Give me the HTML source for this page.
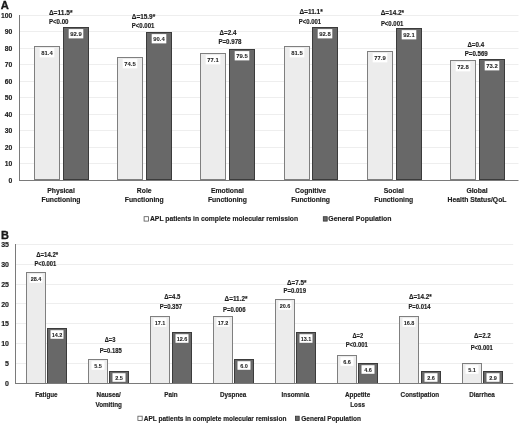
<!DOCTYPE html>
<html><head><meta charset="utf-8"><style>
html,body{margin:0;padding:0;background:#fff;}
body{width:520px;height:423px;overflow:hidden;}
svg{display:block;font-family:"Liberation Sans", sans-serif;filter:grayscale(1) blur(0.3px);}
</style></head><body>
<svg width="520" height="423" viewBox="0 0 520 423">
<rect width="520" height="423" fill="#fff"/>
<line x1="19.5" y1="163.5" x2="518.5" y2="163.5" stroke="#eeeeee" stroke-width="1"/>
<line x1="19.5" y1="147.5" x2="518.5" y2="147.5" stroke="#eeeeee" stroke-width="1"/>
<line x1="19.5" y1="130.5" x2="518.5" y2="130.5" stroke="#eeeeee" stroke-width="1"/>
<line x1="19.5" y1="114.5" x2="518.5" y2="114.5" stroke="#eeeeee" stroke-width="1"/>
<line x1="19.5" y1="97.5" x2="518.5" y2="97.5" stroke="#eeeeee" stroke-width="1"/>
<line x1="19.5" y1="81.5" x2="518.5" y2="81.5" stroke="#eeeeee" stroke-width="1"/>
<line x1="19.5" y1="64.5" x2="518.5" y2="64.5" stroke="#eeeeee" stroke-width="1"/>
<line x1="19.5" y1="48.5" x2="518.5" y2="48.5" stroke="#eeeeee" stroke-width="1"/>
<line x1="19.5" y1="31.5" x2="518.5" y2="31.5" stroke="#eeeeee" stroke-width="1"/>
<line x1="19.5" y1="15.5" x2="518.5" y2="15.5" stroke="#eeeeee" stroke-width="1"/>
<text x="12.40" y="182.85" font-size="6.8" text-anchor="end" font-weight="bold" fill="#1c1c1c" stroke="#1c1c1c" stroke-width="0.15">0</text>
<text x="12.40" y="166.35" font-size="6.8" text-anchor="end" font-weight="bold" fill="#1c1c1c" stroke="#1c1c1c" stroke-width="0.15">10</text>
<text x="12.40" y="149.85" font-size="6.8" text-anchor="end" font-weight="bold" fill="#1c1c1c" stroke="#1c1c1c" stroke-width="0.15">20</text>
<text x="12.40" y="133.35" font-size="6.8" text-anchor="end" font-weight="bold" fill="#1c1c1c" stroke="#1c1c1c" stroke-width="0.15">30</text>
<text x="12.40" y="116.85" font-size="6.8" text-anchor="end" font-weight="bold" fill="#1c1c1c" stroke="#1c1c1c" stroke-width="0.15">40</text>
<text x="12.40" y="100.35" font-size="6.8" text-anchor="end" font-weight="bold" fill="#1c1c1c" stroke="#1c1c1c" stroke-width="0.15">50</text>
<text x="12.40" y="83.85" font-size="6.8" text-anchor="end" font-weight="bold" fill="#1c1c1c" stroke="#1c1c1c" stroke-width="0.15">60</text>
<text x="12.40" y="67.35" font-size="6.8" text-anchor="end" font-weight="bold" fill="#1c1c1c" stroke="#1c1c1c" stroke-width="0.15">70</text>
<text x="12.40" y="50.85" font-size="6.8" text-anchor="end" font-weight="bold" fill="#1c1c1c" stroke="#1c1c1c" stroke-width="0.15">80</text>
<text x="12.40" y="34.35" font-size="6.8" text-anchor="end" font-weight="bold" fill="#1c1c1c" stroke="#1c1c1c" stroke-width="0.15">90</text>
<text x="12.40" y="17.85" font-size="6.8" text-anchor="end" font-weight="bold" fill="#1c1c1c" stroke="#1c1c1c" stroke-width="0.15">100</text>
<rect x="34.50" y="46.50" width="25.00" height="133.00" fill="#ececec" stroke="#7f7f7f" stroke-width="1"/>
<rect x="63.50" y="27.50" width="25.00" height="152.00" fill="#686868" stroke="#3b3b3b" stroke-width="1"/>
<rect x="39.70" y="48.10" width="14.6" height="9.3" fill="#ffffff"/>
<text x="47.00" y="54.80" font-size="5.9" text-anchor="middle" font-weight="bold" fill="#1c1c1c" stroke="#1c1c1c" stroke-width="0.05">81.4</text>
<rect x="68.70" y="29.10" width="14.6" height="9.3" fill="#ffffff"/>
<text x="76.00" y="35.80" font-size="5.9" text-anchor="middle" font-weight="bold" fill="#1c1c1c" stroke="#1c1c1c" stroke-width="0.05">92.9</text>
<text x="61.00" y="192.80" font-size="6.8" text-anchor="middle" font-weight="bold" fill="#1c1c1c" stroke="#1c1c1c" stroke-width="0.15">Physical</text>
<text x="61.00" y="201.70" font-size="6.8" text-anchor="middle" font-weight="bold" fill="#1c1c1c" stroke="#1c1c1c" stroke-width="0.15">Functioning</text>
<text x="48.90" y="14.80" font-size="6.4" text-anchor="start" font-weight="bold" fill="#1c1c1c" textLength="23.60" lengthAdjust="spacingAndGlyphs" stroke="#1c1c1c" stroke-width="0.15">Δ=11.5*</text>
<text x="48.90" y="23.60" font-size="6.4" text-anchor="start" font-weight="bold" fill="#1c1c1c" textLength="19.60" lengthAdjust="spacingAndGlyphs" stroke="#1c1c1c" stroke-width="0.15">P&lt;0.00</text>
<rect x="117.50" y="57.50" width="25.00" height="122.00" fill="#ececec" stroke="#7f7f7f" stroke-width="1"/>
<rect x="146.50" y="32.50" width="25.00" height="147.00" fill="#686868" stroke="#3b3b3b" stroke-width="1"/>
<rect x="122.70" y="59.10" width="14.6" height="9.3" fill="#ffffff"/>
<text x="130.00" y="65.80" font-size="5.9" text-anchor="middle" font-weight="bold" fill="#1c1c1c" stroke="#1c1c1c" stroke-width="0.05">74.5</text>
<rect x="151.70" y="34.10" width="14.6" height="9.3" fill="#ffffff"/>
<text x="159.00" y="40.80" font-size="5.9" text-anchor="middle" font-weight="bold" fill="#1c1c1c" stroke="#1c1c1c" stroke-width="0.05">90.4</text>
<text x="144.20" y="192.80" font-size="6.8" text-anchor="middle" font-weight="bold" fill="#1c1c1c" stroke="#1c1c1c" stroke-width="0.15">Role</text>
<text x="144.20" y="201.70" font-size="6.8" text-anchor="middle" font-weight="bold" fill="#1c1c1c" stroke="#1c1c1c" stroke-width="0.15">Functioning</text>
<text x="131.80" y="18.80" font-size="6.4" text-anchor="start" font-weight="bold" fill="#1c1c1c" textLength="23.40" lengthAdjust="spacingAndGlyphs" stroke="#1c1c1c" stroke-width="0.15">Δ=15.9*</text>
<text x="131.80" y="27.60" font-size="6.4" text-anchor="start" font-weight="bold" fill="#1c1c1c" textLength="22.60" lengthAdjust="spacingAndGlyphs" stroke="#1c1c1c" stroke-width="0.15">P&lt;0.001</text>
<rect x="200.50" y="53.50" width="25.00" height="126.00" fill="#ececec" stroke="#7f7f7f" stroke-width="1"/>
<rect x="229.50" y="49.50" width="25.00" height="130.00" fill="#686868" stroke="#3b3b3b" stroke-width="1"/>
<rect x="205.70" y="55.10" width="14.6" height="9.3" fill="#ffffff"/>
<text x="213.00" y="61.80" font-size="5.9" text-anchor="middle" font-weight="bold" fill="#1c1c1c" stroke="#1c1c1c" stroke-width="0.05">77.1</text>
<rect x="234.70" y="51.10" width="14.6" height="9.3" fill="#ffffff"/>
<text x="242.00" y="57.80" font-size="5.9" text-anchor="middle" font-weight="bold" fill="#1c1c1c" stroke="#1c1c1c" stroke-width="0.05">79.5</text>
<text x="227.40" y="192.80" font-size="6.8" text-anchor="middle" font-weight="bold" fill="#1c1c1c" stroke="#1c1c1c" stroke-width="0.15">Emotional</text>
<text x="227.40" y="201.70" font-size="6.8" text-anchor="middle" font-weight="bold" fill="#1c1c1c" stroke="#1c1c1c" stroke-width="0.15">Functioning</text>
<text x="219.60" y="35.40" font-size="6.4" text-anchor="start" font-weight="bold" fill="#1c1c1c" textLength="16.80" lengthAdjust="spacingAndGlyphs" stroke="#1c1c1c" stroke-width="0.15">Δ=2.4</text>
<text x="218.40" y="44.30" font-size="6.4" text-anchor="start" font-weight="bold" fill="#1c1c1c" textLength="23.10" lengthAdjust="spacingAndGlyphs" stroke="#1c1c1c" stroke-width="0.15">P=0.978</text>
<rect x="284.50" y="46.50" width="25.00" height="133.00" fill="#ececec" stroke="#7f7f7f" stroke-width="1"/>
<rect x="312.50" y="27.50" width="25.00" height="152.00" fill="#686868" stroke="#3b3b3b" stroke-width="1"/>
<rect x="289.70" y="48.10" width="14.6" height="9.3" fill="#ffffff"/>
<text x="297.00" y="54.80" font-size="5.9" text-anchor="middle" font-weight="bold" fill="#1c1c1c" stroke="#1c1c1c" stroke-width="0.05">81.5</text>
<rect x="317.70" y="29.10" width="14.6" height="9.3" fill="#ffffff"/>
<text x="325.00" y="35.80" font-size="5.9" text-anchor="middle" font-weight="bold" fill="#1c1c1c" stroke="#1c1c1c" stroke-width="0.05">92.8</text>
<text x="310.60" y="192.80" font-size="6.8" text-anchor="middle" font-weight="bold" fill="#1c1c1c" stroke="#1c1c1c" stroke-width="0.15">Cognitive</text>
<text x="310.60" y="201.70" font-size="6.8" text-anchor="middle" font-weight="bold" fill="#1c1c1c" stroke="#1c1c1c" stroke-width="0.15">Functioning</text>
<text x="299.40" y="14.40" font-size="6.4" text-anchor="start" font-weight="bold" fill="#1c1c1c" textLength="23.40" lengthAdjust="spacingAndGlyphs" stroke="#1c1c1c" stroke-width="0.15">Δ=11.1*</text>
<text x="298.80" y="23.50" font-size="6.4" text-anchor="start" font-weight="bold" fill="#1c1c1c" textLength="22.30" lengthAdjust="spacingAndGlyphs" stroke="#1c1c1c" stroke-width="0.15">P&lt;0.001</text>
<rect x="367.50" y="51.50" width="25.00" height="128.00" fill="#ececec" stroke="#7f7f7f" stroke-width="1"/>
<rect x="396.50" y="28.50" width="25.00" height="151.00" fill="#686868" stroke="#3b3b3b" stroke-width="1"/>
<rect x="372.70" y="53.10" width="14.6" height="9.3" fill="#ffffff"/>
<text x="380.00" y="59.80" font-size="5.9" text-anchor="middle" font-weight="bold" fill="#1c1c1c" stroke="#1c1c1c" stroke-width="0.05">77.9</text>
<rect x="401.70" y="30.10" width="14.6" height="9.3" fill="#ffffff"/>
<text x="409.00" y="36.80" font-size="5.9" text-anchor="middle" font-weight="bold" fill="#1c1c1c" stroke="#1c1c1c" stroke-width="0.05">92.1</text>
<text x="393.80" y="192.80" font-size="6.8" text-anchor="middle" font-weight="bold" fill="#1c1c1c" stroke="#1c1c1c" stroke-width="0.15">Social</text>
<text x="393.80" y="201.70" font-size="6.8" text-anchor="middle" font-weight="bold" fill="#1c1c1c" stroke="#1c1c1c" stroke-width="0.15">Functioning</text>
<text x="380.70" y="14.80" font-size="6.4" text-anchor="start" font-weight="bold" fill="#1c1c1c" textLength="23.40" lengthAdjust="spacingAndGlyphs" stroke="#1c1c1c" stroke-width="0.15">Δ=14.2*</text>
<text x="380.90" y="26.40" font-size="6.4" text-anchor="start" font-weight="bold" fill="#1c1c1c" textLength="22.40" lengthAdjust="spacingAndGlyphs" stroke="#1c1c1c" stroke-width="0.15">P&lt;0.001</text>
<rect x="450.50" y="60.50" width="25.00" height="119.00" fill="#ececec" stroke="#7f7f7f" stroke-width="1"/>
<rect x="479.50" y="59.50" width="25.00" height="120.00" fill="#686868" stroke="#3b3b3b" stroke-width="1"/>
<rect x="455.70" y="62.10" width="14.6" height="9.3" fill="#ffffff"/>
<text x="463.00" y="68.80" font-size="5.9" text-anchor="middle" font-weight="bold" fill="#1c1c1c" stroke="#1c1c1c" stroke-width="0.05">72.8</text>
<rect x="484.70" y="61.10" width="14.6" height="9.3" fill="#ffffff"/>
<text x="492.00" y="67.80" font-size="5.9" text-anchor="middle" font-weight="bold" fill="#1c1c1c" stroke="#1c1c1c" stroke-width="0.05">73.2</text>
<text x="477.00" y="192.80" font-size="6.8" text-anchor="middle" font-weight="bold" fill="#1c1c1c" stroke="#1c1c1c" stroke-width="0.15">Global</text>
<text x="477.00" y="201.70" font-size="6.8" text-anchor="middle" font-weight="bold" fill="#1c1c1c" stroke="#1c1c1c" stroke-width="0.15">Health Status/QoL</text>
<text x="467.40" y="47.40" font-size="6.4" text-anchor="start" font-weight="bold" fill="#1c1c1c" textLength="16.70" lengthAdjust="spacingAndGlyphs" stroke="#1c1c1c" stroke-width="0.15">Δ=0.4</text>
<text x="464.70" y="55.60" font-size="6.4" text-anchor="start" font-weight="bold" fill="#1c1c1c" textLength="23.10" lengthAdjust="spacingAndGlyphs" stroke="#1c1c1c" stroke-width="0.15">P=0.569</text>
<line x1="19.5" y1="15" x2="19.5" y2="180.5" stroke="#7a7a7a" stroke-width="1"/>
<line x1="19" y1="180.5" x2="518.5" y2="180.5" stroke="#7a7a7a" stroke-width="1"/>
<text x="0.70" y="9.10" font-size="11.2" text-anchor="start" font-weight="bold" fill="#1c1c1c" stroke="#000" stroke-width="0.3">A</text>
<rect x="144.10" y="216.70" width="4.40" height="4.40" fill="#ffffff" stroke="#555555" stroke-width="0.8"/>
<text x="150.00" y="221.30" font-size="6.75" text-anchor="start" font-weight="bold" fill="#1c1c1c" stroke="#1c1c1c" stroke-width="0.15">APL patients in complete molecular remission</text>
<rect x="323.30" y="216.70" width="3.90" height="4.40" fill="#686868" stroke="#333333" stroke-width="0.8"/>
<text x="328.30" y="221.30" font-size="6.9" text-anchor="start" font-weight="bold" fill="#1c1c1c" stroke="#1c1c1c" stroke-width="0.15">General Population</text>
<line x1="15.5" y1="363.5" x2="513.2" y2="363.5" stroke="#eeeeee" stroke-width="1"/>
<line x1="15.5" y1="343.5" x2="513.2" y2="343.5" stroke="#eeeeee" stroke-width="1"/>
<line x1="15.5" y1="323.5" x2="513.2" y2="323.5" stroke="#eeeeee" stroke-width="1"/>
<line x1="15.5" y1="303.5" x2="513.2" y2="303.5" stroke="#eeeeee" stroke-width="1"/>
<line x1="15.5" y1="284.5" x2="513.2" y2="284.5" stroke="#eeeeee" stroke-width="1"/>
<line x1="15.5" y1="264.5" x2="513.2" y2="264.5" stroke="#eeeeee" stroke-width="1"/>
<line x1="15.5" y1="244.5" x2="513.2" y2="244.5" stroke="#eeeeee" stroke-width="1"/>
<text x="9.00" y="386.00" font-size="7.0" text-anchor="end" font-weight="bold" fill="#1c1c1c" stroke="#1c1c1c" stroke-width="0.15">0</text>
<text x="9.00" y="366.15" font-size="7.0" text-anchor="end" font-weight="bold" fill="#1c1c1c" stroke="#1c1c1c" stroke-width="0.15">5</text>
<text x="9.00" y="346.30" font-size="7.0" text-anchor="end" font-weight="bold" fill="#1c1c1c" stroke="#1c1c1c" stroke-width="0.15">10</text>
<text x="9.00" y="326.45" font-size="7.0" text-anchor="end" font-weight="bold" fill="#1c1c1c" stroke="#1c1c1c" stroke-width="0.15">15</text>
<text x="9.00" y="306.60" font-size="7.0" text-anchor="end" font-weight="bold" fill="#1c1c1c" stroke="#1c1c1c" stroke-width="0.15">20</text>
<text x="9.00" y="286.75" font-size="7.0" text-anchor="end" font-weight="bold" fill="#1c1c1c" stroke="#1c1c1c" stroke-width="0.15">25</text>
<text x="9.00" y="266.90" font-size="7.0" text-anchor="end" font-weight="bold" fill="#1c1c1c" stroke="#1c1c1c" stroke-width="0.15">30</text>
<text x="9.00" y="247.05" font-size="7.0" text-anchor="end" font-weight="bold" fill="#1c1c1c" stroke="#1c1c1c" stroke-width="0.15">35</text>
<rect x="26.50" y="272.50" width="19.00" height="111.00" fill="#ececec" stroke="#7f7f7f" stroke-width="1"/>
<rect x="47.50" y="328.50" width="19.00" height="55.00" fill="#686868" stroke="#3b3b3b" stroke-width="1"/>
<rect x="29.50" y="274.20" width="13" height="8.6" fill="#ffffff"/>
<text x="36.00" y="281.00" font-size="5.5" text-anchor="middle" font-weight="bold" fill="#1c1c1c" stroke="#1c1c1c" stroke-width="0.05">28.4</text>
<rect x="50.50" y="330.20" width="13" height="8.6" fill="#ffffff"/>
<text x="57.00" y="337.00" font-size="5.5" text-anchor="middle" font-weight="bold" fill="#1c1c1c" stroke="#1c1c1c" stroke-width="0.05">14.2</text>
<text x="46.42" y="396.70" font-size="6.3" text-anchor="middle" font-weight="bold" fill="#1c1c1c" stroke="#1c1c1c" stroke-width="0.15">Fatigue</text>
<text x="36.20" y="256.70" font-size="6.4" text-anchor="start" font-weight="bold" fill="#1c1c1c" textLength="22.00" lengthAdjust="spacingAndGlyphs" stroke="#1c1c1c" stroke-width="0.15">Δ=14.2*</text>
<text x="34.50" y="265.60" font-size="6.4" text-anchor="start" font-weight="bold" fill="#1c1c1c" textLength="21.80" lengthAdjust="spacingAndGlyphs" stroke="#1c1c1c" stroke-width="0.15">P&lt;0.001</text>
<rect x="88.50" y="359.50" width="19.00" height="24.00" fill="#ececec" stroke="#7f7f7f" stroke-width="1"/>
<rect x="109.50" y="371.50" width="19.00" height="12.00" fill="#686868" stroke="#3b3b3b" stroke-width="1"/>
<rect x="91.50" y="361.20" width="13" height="8.6" fill="#ffffff"/>
<text x="98.00" y="368.00" font-size="5.5" text-anchor="middle" font-weight="bold" fill="#1c1c1c" stroke="#1c1c1c" stroke-width="0.05">5.5</text>
<rect x="112.50" y="373.20" width="13" height="8.6" fill="#ffffff"/>
<text x="119.00" y="380.00" font-size="5.5" text-anchor="middle" font-weight="bold" fill="#1c1c1c" stroke="#1c1c1c" stroke-width="0.05">2.5</text>
<text x="108.66" y="396.70" font-size="6.3" text-anchor="middle" font-weight="bold" fill="#1c1c1c" stroke="#1c1c1c" stroke-width="0.15">Nausea/</text>
<text x="108.66" y="406.50" font-size="6.3" text-anchor="middle" font-weight="bold" fill="#1c1c1c" stroke="#1c1c1c" stroke-width="0.15">Vomiting</text>
<text x="104.70" y="341.80" font-size="6.4" text-anchor="start" font-weight="bold" fill="#1c1c1c" textLength="10.70" lengthAdjust="spacingAndGlyphs" stroke="#1c1c1c" stroke-width="0.15">Δ=3</text>
<text x="99.70" y="352.90" font-size="6.4" text-anchor="start" font-weight="bold" fill="#1c1c1c" textLength="22.10" lengthAdjust="spacingAndGlyphs" stroke="#1c1c1c" stroke-width="0.15">P=0.185</text>
<rect x="150.50" y="316.50" width="19.00" height="67.00" fill="#ececec" stroke="#7f7f7f" stroke-width="1"/>
<rect x="172.50" y="332.50" width="19.00" height="51.00" fill="#686868" stroke="#3b3b3b" stroke-width="1"/>
<rect x="153.50" y="318.20" width="13" height="8.6" fill="#ffffff"/>
<text x="160.00" y="325.00" font-size="5.5" text-anchor="middle" font-weight="bold" fill="#1c1c1c" stroke="#1c1c1c" stroke-width="0.05">17.1</text>
<rect x="175.50" y="334.20" width="13" height="8.6" fill="#ffffff"/>
<text x="182.00" y="341.00" font-size="5.5" text-anchor="middle" font-weight="bold" fill="#1c1c1c" stroke="#1c1c1c" stroke-width="0.05">12.6</text>
<text x="170.90" y="396.70" font-size="6.3" text-anchor="middle" font-weight="bold" fill="#1c1c1c" stroke="#1c1c1c" stroke-width="0.15">Pain</text>
<text x="164.30" y="298.60" font-size="6.4" text-anchor="start" font-weight="bold" fill="#1c1c1c" textLength="16.10" lengthAdjust="spacingAndGlyphs" stroke="#1c1c1c" stroke-width="0.15">Δ=4.5</text>
<text x="159.70" y="308.50" font-size="6.4" text-anchor="start" font-weight="bold" fill="#1c1c1c" textLength="22.40" lengthAdjust="spacingAndGlyphs" stroke="#1c1c1c" stroke-width="0.15">P=0.357</text>
<rect x="213.50" y="316.50" width="19.00" height="67.00" fill="#ececec" stroke="#7f7f7f" stroke-width="1"/>
<rect x="234.50" y="359.50" width="19.00" height="24.00" fill="#686868" stroke="#3b3b3b" stroke-width="1"/>
<rect x="216.50" y="318.20" width="13" height="8.6" fill="#ffffff"/>
<text x="223.00" y="325.00" font-size="5.5" text-anchor="middle" font-weight="bold" fill="#1c1c1c" stroke="#1c1c1c" stroke-width="0.05">17.2</text>
<rect x="237.50" y="361.20" width="13" height="8.6" fill="#ffffff"/>
<text x="244.00" y="368.00" font-size="5.5" text-anchor="middle" font-weight="bold" fill="#1c1c1c" stroke="#1c1c1c" stroke-width="0.05">6.0</text>
<text x="233.14" y="396.70" font-size="6.3" text-anchor="middle" font-weight="bold" fill="#1c1c1c" stroke="#1c1c1c" stroke-width="0.15">Dyspnea</text>
<text x="224.60" y="300.70" font-size="6.4" text-anchor="start" font-weight="bold" fill="#1c1c1c" textLength="22.90" lengthAdjust="spacingAndGlyphs" stroke="#1c1c1c" stroke-width="0.15">Δ=11.2*</text>
<text x="222.90" y="311.70" font-size="6.4" text-anchor="start" font-weight="bold" fill="#1c1c1c" textLength="22.60" lengthAdjust="spacingAndGlyphs" stroke="#1c1c1c" stroke-width="0.15">P=0.006</text>
<rect x="275.50" y="299.50" width="19.00" height="84.00" fill="#ececec" stroke="#7f7f7f" stroke-width="1"/>
<rect x="296.50" y="332.50" width="19.00" height="51.00" fill="#686868" stroke="#3b3b3b" stroke-width="1"/>
<rect x="278.50" y="301.20" width="13" height="8.6" fill="#ffffff"/>
<text x="285.00" y="308.00" font-size="5.5" text-anchor="middle" font-weight="bold" fill="#1c1c1c" stroke="#1c1c1c" stroke-width="0.05">20.6</text>
<rect x="299.50" y="334.20" width="13" height="8.6" fill="#ffffff"/>
<text x="306.00" y="341.00" font-size="5.5" text-anchor="middle" font-weight="bold" fill="#1c1c1c" stroke="#1c1c1c" stroke-width="0.05">13.1</text>
<text x="295.38" y="396.70" font-size="6.3" text-anchor="middle" font-weight="bold" fill="#1c1c1c" stroke="#1c1c1c" stroke-width="0.15">Insomnia</text>
<text x="287.00" y="284.50" font-size="6.4" text-anchor="start" font-weight="bold" fill="#1c1c1c" textLength="19.50" lengthAdjust="spacingAndGlyphs" stroke="#1c1c1c" stroke-width="0.15">Δ=7.5*</text>
<text x="283.60" y="293.30" font-size="6.4" text-anchor="start" font-weight="bold" fill="#1c1c1c" textLength="22.40" lengthAdjust="spacingAndGlyphs" stroke="#1c1c1c" stroke-width="0.15">P=0.019</text>
<rect x="337.50" y="355.50" width="19.00" height="28.00" fill="#ececec" stroke="#7f7f7f" stroke-width="1"/>
<rect x="358.50" y="363.50" width="19.00" height="20.00" fill="#686868" stroke="#3b3b3b" stroke-width="1"/>
<rect x="340.50" y="357.20" width="13" height="8.6" fill="#ffffff"/>
<text x="347.00" y="364.00" font-size="5.5" text-anchor="middle" font-weight="bold" fill="#1c1c1c" stroke="#1c1c1c" stroke-width="0.05">6.6</text>
<rect x="361.50" y="365.20" width="13" height="8.6" fill="#ffffff"/>
<text x="368.00" y="372.00" font-size="5.5" text-anchor="middle" font-weight="bold" fill="#1c1c1c" stroke="#1c1c1c" stroke-width="0.05">4.6</text>
<text x="357.62" y="396.70" font-size="6.3" text-anchor="middle" font-weight="bold" fill="#1c1c1c" stroke="#1c1c1c" stroke-width="0.15">Appetite</text>
<text x="357.62" y="406.50" font-size="6.3" text-anchor="middle" font-weight="bold" fill="#1c1c1c" stroke="#1c1c1c" stroke-width="0.15">Loss</text>
<text x="352.50" y="337.70" font-size="6.4" text-anchor="start" font-weight="bold" fill="#1c1c1c" textLength="10.60" lengthAdjust="spacingAndGlyphs" stroke="#1c1c1c" stroke-width="0.15">Δ=2</text>
<text x="345.70" y="347.10" font-size="6.4" text-anchor="start" font-weight="bold" fill="#1c1c1c" textLength="22.10" lengthAdjust="spacingAndGlyphs" stroke="#1c1c1c" stroke-width="0.15">P&lt;0.001</text>
<rect x="399.50" y="316.50" width="19.00" height="67.00" fill="#ececec" stroke="#7f7f7f" stroke-width="1"/>
<rect x="421.50" y="371.50" width="19.00" height="12.00" fill="#686868" stroke="#3b3b3b" stroke-width="1"/>
<rect x="402.50" y="318.20" width="13" height="8.6" fill="#ffffff"/>
<text x="409.00" y="325.00" font-size="5.5" text-anchor="middle" font-weight="bold" fill="#1c1c1c" stroke="#1c1c1c" stroke-width="0.05">16.8</text>
<rect x="424.50" y="373.20" width="13" height="8.6" fill="#ffffff"/>
<text x="431.00" y="380.00" font-size="5.5" text-anchor="middle" font-weight="bold" fill="#1c1c1c" stroke="#1c1c1c" stroke-width="0.05">2.6</text>
<text x="419.86" y="396.70" font-size="6.3" text-anchor="middle" font-weight="bold" fill="#1c1c1c" stroke="#1c1c1c" stroke-width="0.15">Constipation</text>
<text x="408.90" y="298.80" font-size="6.4" text-anchor="start" font-weight="bold" fill="#1c1c1c" textLength="22.90" lengthAdjust="spacingAndGlyphs" stroke="#1c1c1c" stroke-width="0.15">Δ=14.2*</text>
<text x="408.40" y="309.40" font-size="6.4" text-anchor="start" font-weight="bold" fill="#1c1c1c" textLength="22.10" lengthAdjust="spacingAndGlyphs" stroke="#1c1c1c" stroke-width="0.15">P=0.014</text>
<rect x="462.50" y="363.50" width="19.00" height="20.00" fill="#ececec" stroke="#7f7f7f" stroke-width="1"/>
<rect x="483.50" y="371.50" width="19.00" height="12.00" fill="#686868" stroke="#3b3b3b" stroke-width="1"/>
<rect x="465.50" y="365.20" width="13" height="8.6" fill="#ffffff"/>
<text x="472.00" y="372.00" font-size="5.5" text-anchor="middle" font-weight="bold" fill="#1c1c1c" stroke="#1c1c1c" stroke-width="0.05">5.1</text>
<rect x="486.50" y="373.20" width="13" height="8.6" fill="#ffffff"/>
<text x="493.00" y="380.00" font-size="5.5" text-anchor="middle" font-weight="bold" fill="#1c1c1c" stroke="#1c1c1c" stroke-width="0.05">2.9</text>
<text x="482.10" y="396.70" font-size="6.3" text-anchor="middle" font-weight="bold" fill="#1c1c1c" stroke="#1c1c1c" stroke-width="0.15">Diarrhea</text>
<text x="474.10" y="338.40" font-size="6.4" text-anchor="start" font-weight="bold" fill="#1c1c1c" textLength="16.70" lengthAdjust="spacingAndGlyphs" stroke="#1c1c1c" stroke-width="0.15">Δ=2.2</text>
<text x="470.70" y="349.70" font-size="6.4" text-anchor="start" font-weight="bold" fill="#1c1c1c" textLength="22.10" lengthAdjust="spacingAndGlyphs" stroke="#1c1c1c" stroke-width="0.15">P&lt;0.001</text>
<line x1="15.5" y1="244" x2="15.5" y2="384" stroke="#7a7a7a" stroke-width="1"/>
<line x1="15" y1="383.5" x2="513.2" y2="383.5" stroke="#7a7a7a" stroke-width="1"/>
<text x="1.00" y="238.60" font-size="11.0" text-anchor="start" font-weight="bold" fill="#1c1c1c" stroke="#000" stroke-width="0.3">B</text>
<rect x="137.90" y="416.20" width="4.30" height="4.20" fill="#ffffff" stroke="#555555" stroke-width="0.8"/>
<text x="143.80" y="420.50" font-size="6.5" text-anchor="start" font-weight="bold" fill="#1c1c1c" stroke="#1c1c1c" stroke-width="0.15">APL patients in complete molecular remission</text>
<rect x="295.40" y="416.20" width="3.80" height="4.20" fill="#686868" stroke="#333333" stroke-width="0.8"/>
<text x="301.30" y="420.50" font-size="6.5" text-anchor="start" font-weight="bold" fill="#1c1c1c" stroke="#1c1c1c" stroke-width="0.15">General Population</text>
</svg>
</body></html>
